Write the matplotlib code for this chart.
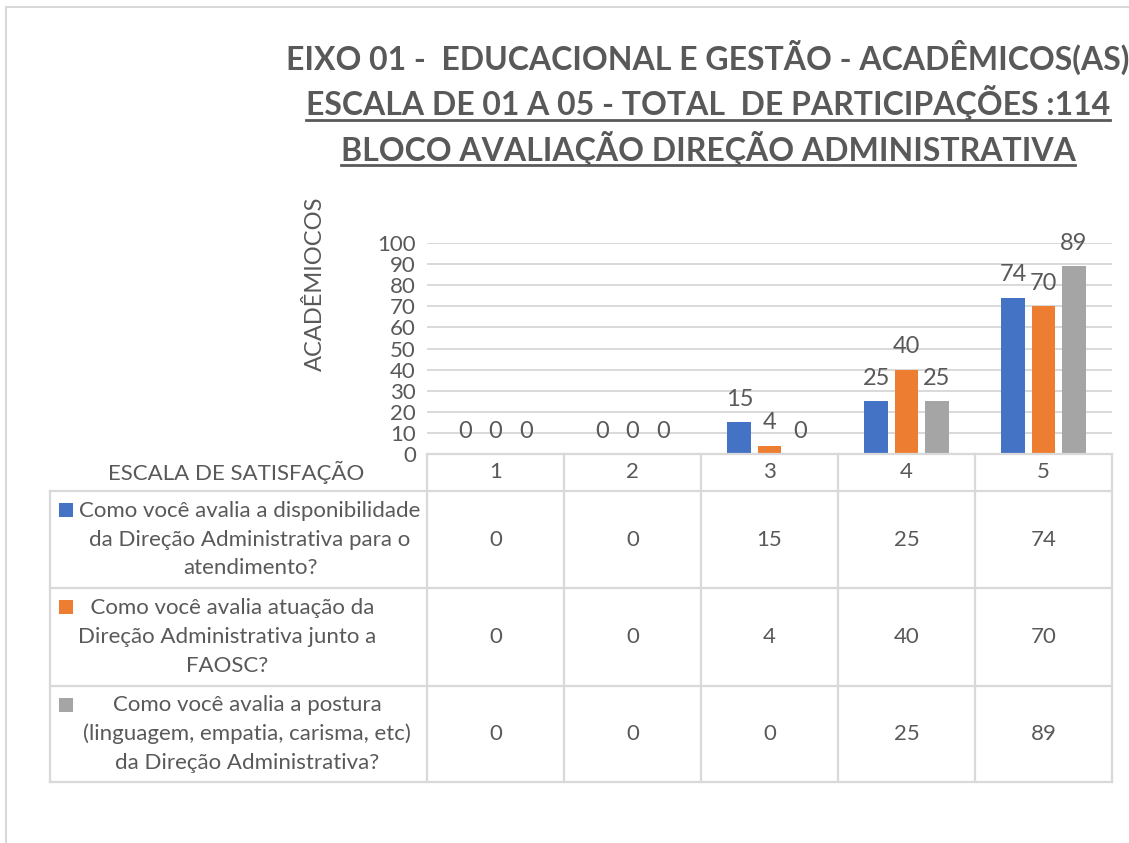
import numpy as np
import matplotlib
matplotlib.use("Agg")
import matplotlib.pyplot as plt
from matplotlib.lines import Line2D
from matplotlib.patches import Rectangle

# data
categories = ["1", "2", "3", "4", "5"]
series_labels = [
    "Como você avalia a disponibilidade\nda Direção Administrativa para o\natendimento?",
    "  Como você avalia atuação da\nDireção Administrativa junto a\nFAOSC?",
    "Como você avalia a postura\n(linguagem, empatia, carisma, etc)\nda Direção Administrativa?",
]
disponibilidade = [0, 0, 15, 25, 74]
atuacao = [0, 0, 4, 40, 70]
postura = [0, 0, 0, 25, 89]
title_lines = [
    "EIXO 01 -  EDUCACIONAL E GESTÃO - ACADÊMICOS(AS)",
    "ESCALA DE 01 A 05 - TOTAL  DE PARTICIPAÇÕES :114",
    "BLOCO AVALIAÇÃO DIREÇÃO ADMINISTRATIVA",
]
y_label = "ACADÊMIOCOS"
x_label = "ESCALA DE SATISFAÇÃO"

COLORS = ["#4472C4", "#ED7D31", "#A5A5A5"]
TXT = "#595959"
GRID = "#d9d9d9"
W, H = 1129, 843
FS = 16  # body text size

plt.rcParams["font.family"] = ["Lato", "DejaVu Sans"]


def fx(px):
    return px / W


def fy(py):
    return 1 - py / H


fig = plt.figure(figsize=(W / 100, H / 100), dpi=100)

# outer chart frame
fig.add_artist(Rectangle((fx(6), fy(860)), fx(1140), fy(7) - fy(860),
                         transform=fig.transFigure, fill=False,
                         ec=GRID, lw=1.5))

# titles
title_y = [57, 103, 148]
for i, (t, ty) in enumerate(zip(title_lines, title_y)):
    fig.text(fx(708), fy(ty), t, ha="center", va="center", fontsize=23,
             fontweight="bold", color=TXT)

# plot area
PL, PR, PT, PB = 427, 1112, 243, 454
ax = fig.add_axes([fx(PL), fy(PB), fx(PR) - fx(PL), fy(PT) - fy(PB)])
x = np.arange(len(categories))
offs = [-0.22, 0.0, 0.22]
for vals, off, c in zip([disponibilidade, atuacao, postura], offs, COLORS):
    bars = ax.bar(x + off, vals, width=0.175, color=c, zorder=3)
    ax.bar_label(bars, padding=9, fontsize=17, color=TXT)
ax.set_xlim(-0.5, len(categories) - 0.5)
ax.set_ylim(0, 100)
ax.set_yticks(np.arange(0, 101, 10))
ax.set_xticks([])
ax.tick_params(axis="y", length=0, labelsize=16, labelcolor=TXT, pad=8)
ax.grid(axis="y", color=GRID, lw=1.4, zorder=0)
for s in ax.spines.values():
    s.set_visible(False)

fig.text(fx(315), fy(284), y_label, rotation=90, ha="center", va="center",
         fontsize=17, color=TXT)

# data table under the chart
col_edges = [ax.transData.transform((e, 0))[0] for e in np.arange(-0.5, len(categories), 1.0)]
row_edges = [454, 491, 588, 686, 782]
TL = 50


def hline(x0, x1, y):
    fig.add_artist(Line2D([fx(x0), fx(x1)], [fy(y), fy(y)], color=GRID, lw=1.6,
                          transform=fig.transFigure))


def vline(xp, y0, y1):
    fig.add_artist(Line2D([fx(xp), fx(xp)], [fy(y0), fy(y1)], color=GRID, lw=1.6,
                          transform=fig.transFigure))


hline(col_edges[0], col_edges[-1], row_edges[0])
for ry in row_edges[1:]:
    hline(TL, col_edges[-1], ry)
vline(TL, row_edges[1], row_edges[-1])
for ce in col_edges:
    vline(ce, row_edges[0], row_edges[-1])

col_centers = [(a + b) / 2 for a, b in zip(col_edges[:-1], col_edges[1:])]
hy = (row_edges[0] + row_edges[1]) / 2
fig.text(fx(236), fy(hy), x_label, ha="center", va="center", fontsize=FS, color=TXT)
for cx, cat in zip(col_centers, categories):
    fig.text(fx(cx), fy(hy), cat, ha="center", va="center", fontsize=FS, color=TXT)

label_cx = [250, 227, 247]
for i, (lab, vals, c) in enumerate(zip(series_labels, [disponibilidade, atuacao, postura], COLORS)):
    top, bot = row_edges[i + 1], row_edges[i + 2]
    cy = (top + bot) / 2
    fig.add_artist(Rectangle((fx(59), fy(top + 26)), fx(14), fy(top + 12) - fy(top + 26),
                             transform=fig.transFigure, color=c, lw=0))
    fig.text(fx(label_cx[i]), fy(cy), lab, ha="center", va="center",
             multialignment="center", fontsize=FS, color=TXT, linespacing=1.55)
    for cx, v in zip(col_centers, vals):
        fig.text(fx(cx), fy(cy), str(v), ha="center", va="center", fontsize=FS, color=TXT)

# underline the 2nd and 3rd title lines
fig.canvas.draw()
r = fig.canvas.get_renderer()
for t in fig.texts[1:3]:
    bb = t.get_window_extent(r)
    uy = bb.y0 + 1
    fig.add_artist(Line2D([bb.x0 / W, bb.x1 / W], [uy / H, uy / H], color=TXT, lw=2,
                          transform=fig.transFigure))

fig.savefig("out.png", dpi=100)
